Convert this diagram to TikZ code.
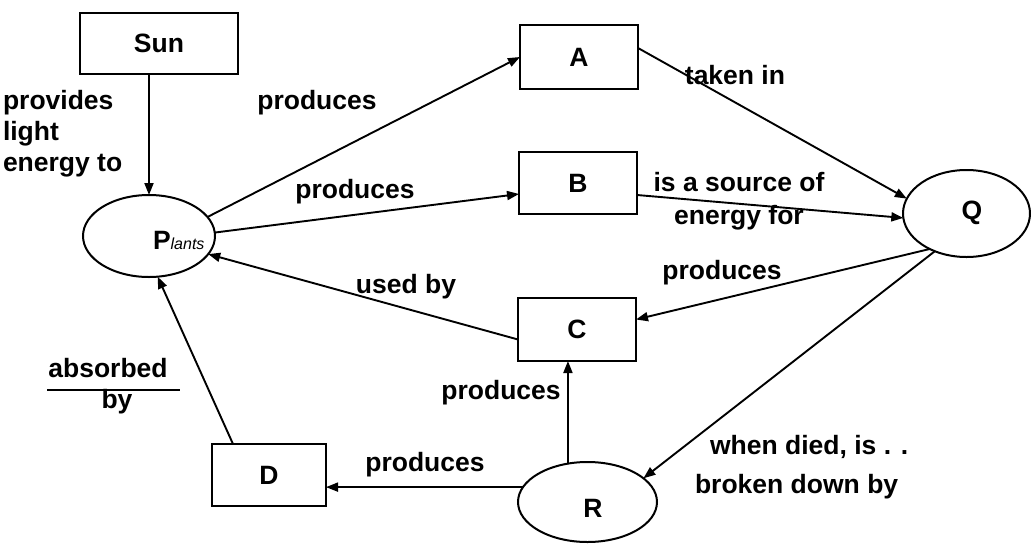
\documentclass[tikz,border=0pt]{standalone}
\usepackage{fontspec}
\setmainfont{Liberation Sans}
\usetikzlibrary{arrows.meta,shapes.geometric}
\begin{document}
\begin{tikzpicture}[x=1pt,y=-1pt,
  every node/.style={font=\fontsize{26.5}{31}\selectfont\bfseries, inner sep=0pt, outer sep=0pt},
  box/.style={draw, line width=2.4pt, minimum width=118pt, minimum height=62pt},
  oval/.style={draw, ellipse, line width=2pt},
  conn/.style={line width=1.9pt, -{Triangle[length=12pt,width=9pt]}},
]
\useasboundingbox[fill=white] (0,0) rectangle (1031,544);

% boxes
\node[box, minimum width=158pt, minimum height=61pt] (Sun) at (159,43.5) {Sun};
\node[box, minimum height=64pt] (A) at (579,57) {A};
\node[box] (B) at (578,183) {B};
\node[box, minimum height=63pt] (C) at (577,329.5) {C};
\node[box, minimum width=114pt] (D) at (269,475) {D};

% ellipses
\node[oval, minimum width=132pt, minimum height=82pt] (P) at (149,236) {};
\node[anchor=west] (Plabel) at (153,240) {P{\mdseries\itshape\fontsize{16}{16}\selectfont lants}};
\node[oval, minimum width=127pt, minimum height=87pt] (Q) at (966.5,213.5) {};
\node (Qlabel) at (972,213) {Q};
\node[oval, minimum width=139pt, minimum height=80pt] (R) at (587.5,502) {};
\node (Rlabel) at (593,508) {R};

% connectors
\draw[conn] (Sun.south -| P.north) -- (P.north);
\draw[conn] (P.18) -- (A.west);
\draw[conn] (P.3) -- ([yshift=-11pt]B.west);
\draw[conn] ([yshift=9pt]A.east) -- (Q.166);
\draw[conn] ([yshift=-12pt]B.east) -- (Q.184);
\draw[conn] (Q.224) -- ([yshift=10pt]C.east);
\draw[conn] (Q.230) -- (R.23);
\draw[conn] ([yshift=-10pt]C.west) -- (P.343);
\draw[conn] (R.117) -- (R.117 |- C.south);
\draw[conn] (R.167) -- (R.167 -| D.east);
\draw[conn] ([xshift=-36pt]D.north) -- (P.282);

% labels
\node[anchor=west, align=left] (lprov) at (3,134) {provides\\light\\energy to};
\node (lp1) at (317,103) {produces};
\node (lp2) at (355,192) {produces};
\node (ltaken) at (735,75) {taken in};
\node[align=center, font=\fontsize{26.5}{33}\selectfont\bfseries] (lsrc) at (739,201) {is a source of\\energy for};
\node (lp3) at (722,273) {produces};
\node (lused) at (406,287) {used by};
\node (lp4) at (501,393) {produces};
\node (lp5) at (425,465) {produces};
\node[anchor=west] (ldied) at (710,447) {when died, is . .};
\node[anchor=west] (lbroken) at (695,487) {broken down by};
\node (labs) at (108,368) {absorbed};
\node (lby) at (117,402) {by};
\draw[line width=1.5pt] (47,390) -- (180,390);
\end{tikzpicture}
\end{document}
